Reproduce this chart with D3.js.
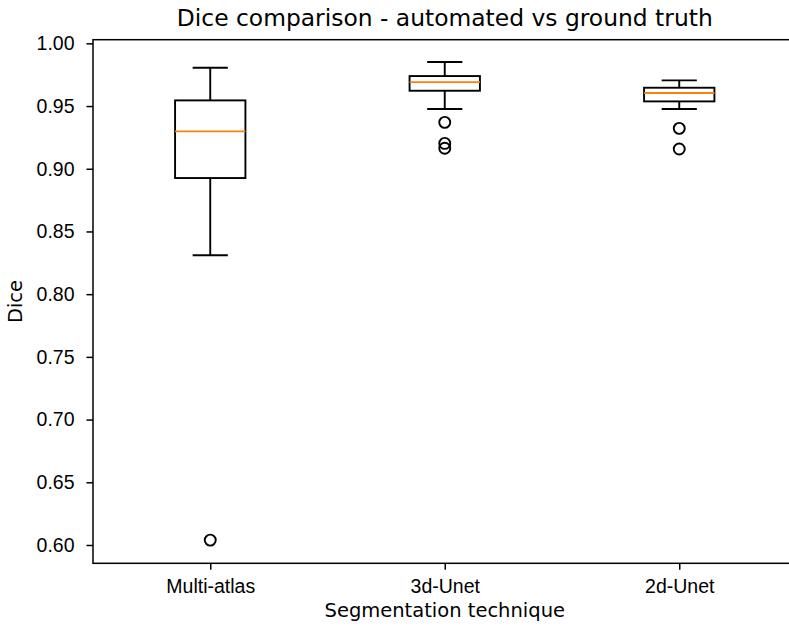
<!DOCTYPE html>
<html lang="en">
	<head>
		<meta charset="utf-8">
		<title>Dice comparison</title>
		<script src="https://cdnjs.cloudflare.com/ajax/libs/d3/7.8.5/d3.min.js"></script>
		<style type="text/css">
			body{
				margin: 0;
				background: white;
			}
			svg{
				display: block;
				font-family: "DejaVu Sans", sans-serif;
			}
			g.tick text{
				font-size: 19.5px;
				fill: black;
			}
			g.axis path.domain{
				display: none;
			}
		</style>
	</head>
	<body>
		<div id="box-chart"></div>
		<script type="text/javascript">

			// values
			const techniques = ["Multi-atlas", "3d-Unet", "2d-Unet"];
			const whiskerLow = [0.831, 0.9476, 0.9476];
			const q1 = [0.8926, 0.9622, 0.9537];
			const median = [0.9298, 0.9691, 0.9604];
			const q3 = [0.9545, 0.9739, 0.9646];
			const whiskerHigh = [0.9805, 0.9851, 0.9705];
			const fliers = [[0.6039], [0.9370, 0.9202, 0.9163], [0.9322, 0.9157]];
			const yTicks = [0.60, 0.65, 0.70, 0.75, 0.80, 0.85, 0.90, 0.95, 1.00];

			const width = 789;
			const height = 628;
			const margin = {left:93, right:796.5, top:39.7, bottom:563.3};

			const dataset = techniques.map((t, i) => ({
				name: t, pos: i + 1,
				lo: whiskerLow[i], q1: q1[i], med: median[i], q3: q3[i], hi: whiskerHigh[i],
				fliers: fliers[i]
			}));

			// x is a numeric position axis like matplotlib (1, 2, 3 with 0.5 padding)
			const xScale = d3.scaleLinear()
						.domain([0.5, 3.5])
						.range([margin.left, margin.right]);
			const yScale = d3.scaleLinear()
						.domain([0.5854, 1.0029])
						.range([margin.bottom, margin.top]);

			const boxHalf = 0.15;
			const capHalf = 0.075;

			const svg = d3.select("#box-chart")
					.append("svg")
					.attr("width", width)
					.attr("height", height);

			// axes
			const xAxis = d3.axisBottom(xScale)
						.tickValues(dataset.map(d => d.pos))
						.tickFormat((d, i) => techniques[i])
						.tickSize(6.5)
						.tickPadding(9.5);
			const yAxis = d3.axisLeft(yScale)
						.tickValues(yTicks)
						.tickFormat(d3.format(".2f"))
						.tickSize(6.5)
						.tickPadding(12);

			svg.append("g")
					.attr("class", "axis x")
					.attr("transform", "translate(0," + margin.bottom + ")")
					.call(xAxis);
			svg.append("g")
					.attr("class", "axis y")
					.attr("transform", "translate(" + margin.left + ",0)")
					.call(yAxis);
			svg.selectAll("g.tick line")
					.attr("stroke", "black")
					.attr("stroke-width", 1.5);

			// frame (right edge falls outside the picture)
			svg.append("rect")
					.attr("x", margin.left)
					.attr("y", margin.top)
					.attr("width", margin.right - margin.left)
					.attr("height", margin.bottom - margin.top)
					.attr("fill", "none")
					.attr("stroke", "black")
					.attr("stroke-width", 1.5);

			const boxes = svg.append("g")
					.attr("class", "boxes")
				.selectAll("g")
				.data(dataset)
				.enter()
				.append("g");

			// whiskers
			boxes.append("line")
					.attr("x1", d => xScale(d.pos))
					.attr("x2", d => xScale(d.pos))
					.attr("y1", d => yScale(d.q3))
					.attr("y2", d => yScale(d.hi));
			boxes.append("line")
					.attr("x1", d => xScale(d.pos))
					.attr("x2", d => xScale(d.pos))
					.attr("y1", d => yScale(d.q1))
					.attr("y2", d => yScale(d.lo));
			// caps
			boxes.append("line")
					.attr("x1", d => xScale(d.pos - capHalf))
					.attr("x2", d => xScale(d.pos + capHalf))
					.attr("y1", d => yScale(d.hi))
					.attr("y2", d => yScale(d.hi));
			boxes.append("line")
					.attr("x1", d => xScale(d.pos - capHalf))
					.attr("x2", d => xScale(d.pos + capHalf))
					.attr("y1", d => yScale(d.lo))
					.attr("y2", d => yScale(d.lo));
			boxes.selectAll("line")
					.attr("stroke", "black")
					.attr("stroke-width", 1.9);

			// box
			boxes.append("rect")
					.attr("x", d => xScale(d.pos - boxHalf))
					.attr("y", d => yScale(d.q3))
					.attr("width", d => xScale(d.pos + boxHalf) - xScale(d.pos - boxHalf))
					.attr("height", d => yScale(d.q1) - yScale(d.q3))
					.attr("fill", "none")
					.attr("stroke", "black")
					.attr("stroke-width", 1.9);

			// median
			boxes.append("line")
					.attr("x1", d => xScale(d.pos - boxHalf))
					.attr("x2", d => xScale(d.pos + boxHalf))
					.attr("y1", d => yScale(d.med))
					.attr("y2", d => yScale(d.med))
					.attr("stroke", "#ff7f0e")
					.attr("stroke-width", 1.9);

			// outliers
			boxes.selectAll("circle")
					.data(d => d.fliers.map(v => ({pos: d.pos, v: v})))
					.enter()
					.append("circle")
					.attr("cx", d => xScale(d.pos))
					.attr("cy", d => yScale(d.v))
					.attr("r", 5.5)
					.attr("fill", "none")
					.attr("stroke", "black")
					.attr("stroke-width", 1.9);

			// title and axis labels
			const midX = (margin.left + margin.right) / 2;
			svg.append("text")
					.attr("x", midX)
					.attr("y", 26)
					.attr("text-anchor", "middle")
					.style("font-size", "23.4px")
					.attr("fill", "black")
					.text("Dice comparison - automated vs ground truth");
			svg.append("text")
					.attr("x", midX)
					.attr("y", 617)
					.attr("text-anchor", "middle")
					.style("font-size", "19.5px")
					.attr("fill", "black")
					.text("Segmentation technique");
			svg.append("text")
					.attr("transform", "translate(22," + ((margin.top + margin.bottom) / 2) + ") rotate(-90)")
					.attr("text-anchor", "middle")
					.style("font-size", "19.5px")
					.attr("fill", "black")
					.text("Dice");

		</script>
	</body>
</html>
